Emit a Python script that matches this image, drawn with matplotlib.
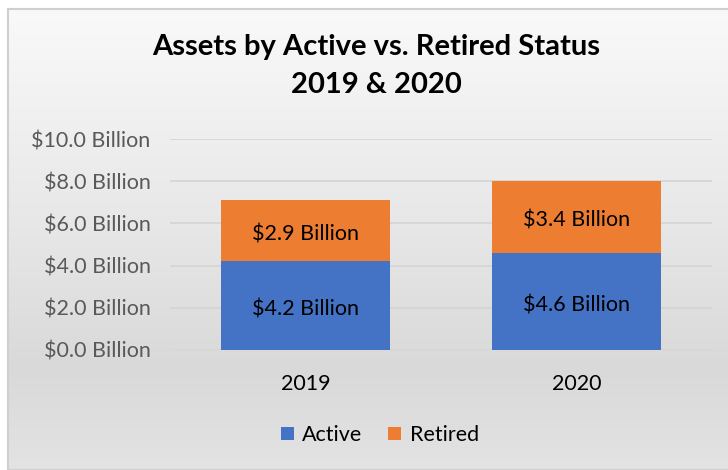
import matplotlib
matplotlib.use("Agg")
import matplotlib.pyplot as plt
import numpy as np
from matplotlib.colors import LinearSegmentedColormap
from matplotlib.patches import Rectangle

# data
years = ["2019", "2020"]
active = [4.2, 4.6]
retired = [2.9, 3.4]
y_ticks = [0, 2, 4, 6, 8, 10]

plt.rcParams['font.family'] = ['Lato', 'DejaVu Sans']

W, H = 728, 470
fig = plt.figure(figsize=(W / 100, H / 100), dpi=100)
fig.patch.set_facecolor("white")

# background panel with vertical gradient
bg = fig.add_axes([8 / W, 0, 1 - 8 / W, 1 - 9 / H])
bg.set_axis_off()
grad_cmap = LinearSegmentedColormap.from_list(
    "bg", [(0.0, "#f9f9f9"), (0.45, "#e8e8e8"), (0.78, "#d9d9d9"), (1.0, "#e3e3e3")])
bg.imshow(np.linspace(0, 1, 256).reshape(-1, 1), aspect="auto", cmap=grad_cmap,
          extent=[0, 1, 0, 1], origin="upper")
bg.add_patch(Rectangle((0, 0), 1.2, 1, fill=False, edgecolor="#cfcfcf", linewidth=1.5,
                       transform=bg.transAxes, clip_on=False))
bg.set_xlim(0, 1)
bg.set_ylim(0, 1)

ax = fig.add_axes([170 / W, (H - 350) / H, 542 / W, 211 / H])
ax.patch.set_alpha(0)
x = np.arange(len(years))
bw = 0.627
b1 = ax.bar(x, active, bw, color="#4472C4", label="Active", zorder=3)
b2 = ax.bar(x, retired, bw, bottom=active, color="#ED7D31", label="Retired", zorder=3)

# labels sit a touch below the segment middle, like Excel
for i in range(len(years)):
    ax.text(x[i], active[i] / 2 - 0.2, f"${active[i]:.1f} Billion", ha="center",
            va="center", fontsize=15.5, color="black", zorder=4)
    ax.text(x[i], active[i] + retired[i] / 2 - 0.18, f"${retired[i]:.1f} Billion",
            ha="center", va="center", fontsize=15.5, color="black", zorder=4)

ax.set_xlim(-0.5, 1.5)
ax.set_ylim(0, 10)
ax.set_yticks(y_ticks)
ax.set_yticklabels([f"${v:.1f} Billion" for v in y_ticks], fontsize=15.5, color="#595959")
ax.set_xticks(x)
ax.set_xticklabels(years, fontsize=15.5, color="black")
ax.tick_params(axis="both", length=0)
ax.tick_params(axis="y", pad=14)
ax.tick_params(axis="x", pad=17)
ax.grid(axis="y", color="#d4d4d4", linewidth=1.2, zorder=0)
for s in ax.spines.values():
    s.set_visible(False)

fig.text(0.517, 1 - 47 / H, "Assets by Active vs. Retired Status", ha="center", va="center",
         fontsize=21, fontweight="bold", color="black")
fig.text(0.517, 1 - 85 / H, "2019 & 2020", ha="center", va="center",
         fontsize=21, fontweight="bold", color="black")

fig.legend(handles=[b1, b2], loc="center", bbox_to_anchor=(380 / W, 1 - 435 / H), ncol=2,
           frameon=False, fontsize=15.5, handlelength=0.6, handleheight=0.6,
           handletextpad=0.4, columnspacing=1.2)

fig.savefig("out.png", dpi=100)
